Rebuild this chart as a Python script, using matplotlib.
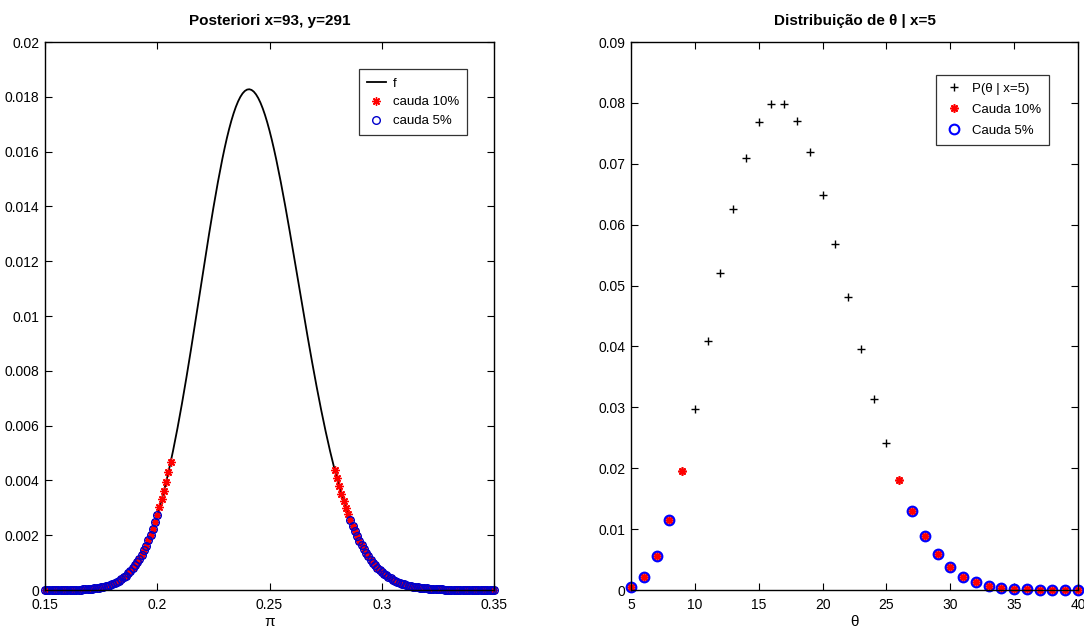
import matplotlib
matplotlib.use("Agg")
import matplotlib.pyplot as plt
import numpy as np

plt.rcParams['font.family'] = ['Liberation Sans', 'DejaVu Sans']

# ---- left panel: posterior on a 0.001 grid of pi ----
pi_grid = np.arange(150, 351) / 1000.0
post = [
    3.79e-7, 4.96e-7, 6.47e-7, 8.40e-7, 1.085e-6, 1.397e-6, 1.791e-6, 2.285e-6, 2.905e-6, 3.678e-6,
    4.637e-6, 5.823e-6, 7.283e-6, 9.075e-6, 1.126e-5, 1.392e-5, 1.715e-5, 2.104e-5, 2.573e-5, 3.134e-5,
    3.803e-5, 4.599e-5, 5.541e-5, 6.653e-5, 7.960e-5, 9.490e-5, 1.1278e-4, 1.3355e-4, 1.5765e-4, 1.8543e-4,
    2.1742e-4, 2.5406e-4, 2.9594e-4, 3.4364e-4, 3.9767e-4, 4.5884e-4, 5.2777e-4, 6.0514e-4, 6.918e-4, 7.883e-4,
    8.957e-4, 1.0147e-3, 1.1460e-3, 1.2907e-3, 1.4493e-3, 1.6225e-3, 1.8114e-3, 2.0166e-3, 2.2385e-3, 2.4778e-3,
    2.7355e-3, 3.0113e-3, 3.3062e-3, 3.6204e-3, 3.9535e-3, 4.3054e-3, 4.6767e-3, 5.0662e-3, 5.4745e-3, 5.8996e-3,
    6.3419e-3, 6.7998e-3, 7.2724e-3, 7.7585e-3, 8.2564e-3, 8.7645e-3, 9.2812e-3, 9.8040e-3, 1.03303e-2, 1.08600e-2,
    1.13896e-2, 1.19161e-2, 1.24371e-2, 1.29525e-2, 1.34555e-2, 1.39466e-2, 1.44224e-2, 1.48811e-2, 1.53174e-2, 1.57334e-2,
    1.61235e-2, 1.64873e-2, 1.68203e-2, 1.71241e-2, 1.73934e-2, 1.76297e-2, 1.78301e-2, 1.79949e-2, 1.81224e-2, 1.82116e-2,
    1.82626e-2, 1.82755e-2, 1.82501e-2, 1.81876e-2, 1.80873e-2, 1.79508e-2, 1.77790e-2, 1.75729e-2, 1.73348e-2, 1.70650e-2,
    1.67661e-2, 1.64397e-2, 1.60876e-2, 1.57127e-2, 1.53161e-2, 1.49005e-2, 1.44681e-2, 1.40211e-2, 1.35625e-2, 1.30932e-2,
    1.26164e-2, 1.21339e-2, 1.16479e-2, 1.11607e-2, 1.06737e-2, 1.01891e-2, 9.7085e-3, 9.2336e-3, 8.7661e-3, 8.3069e-3,
    7.8575e-3, 7.4189e-3, 6.9922e-3, 6.5785e-3, 6.1781e-3, 5.7918e-3, 5.4202e-3, 5.0633e-3, 4.7217e-3, 4.3955e-3,
    4.0847e-3, 3.7892e-3, 3.5090e-3, 3.2441e-3, 2.9940e-3, 2.7585e-3, 2.5372e-3, 2.3296e-3, 2.1355e-3, 1.9543e-3,
    1.7854e-3, 1.6285e-3, 1.4828e-3, 1.3480e-3, 1.2233e-3, 1.1084e-3, 1.0026e-3, 9.054e-4, 8.164e-4, 7.349e-4,
    6.604e-4, 5.925e-4, 5.307e-4, 4.747e-4, 4.238e-4, 3.779e-4, 3.364e-4, 2.989e-4, 2.652e-4, 2.350e-4,
    2.078e-4, 1.835e-4, 1.618e-4, 1.425e-4, 1.252e-4, 1.099e-4, 9.631e-5, 8.426e-5, 7.361e-5, 6.421e-5,
    5.592e-5, 4.863e-5, 4.223e-5, 3.661e-5, 3.169e-5, 2.740e-5, 2.365e-5, 2.038e-5, 1.753e-5, 1.506e-5,
    1.292e-5, 1.107e-5, 9.47e-6, 8.09e-6, 6.90e-6, 5.87e-6, 4.99e-6, 4.24e-6, 3.59e-6, 3.04e-6,
    2.57e-6, 2.17e-6, 1.83e-6, 1.54e-6, 1.29e-6, 1.09e-6, 9.1e-7, 7.6e-7, 6.4e-7, 5.3e-7, 4.4e-7,
]
post = np.array(post)

# tail limits (last point of lower tail, first point of upper tail)
tail10_pi = (0.206, 0.279)
tail5_pi = (0.200, 0.286)

# ---- right panel: discrete distribution of theta ----
theta = np.arange(5, 41)
p_theta = np.array([
    0.0005, 0.0021, 0.0056, 0.0115, 0.0196, 0.0297, 0.0409, 0.0521, 0.0625, 0.0709,
    0.0768, 0.0798, 0.0798, 0.0770, 0.0719, 0.0649, 0.0568, 0.0481, 0.0395, 0.0314,
    0.0242, 0.0180, 0.0129, 0.0089, 0.0059, 0.0037, 0.0022, 0.0013, 0.0007, 0.0004,
    0.0002, 0.0001, 0.00005, 0.00002, 0.00001, 0.000005,
])
tail10_theta = (9, 26)
tail5_theta = (8, 27)

ASTER = (8, 2, 0)   # matlab-like '*'


def style_axes(ax):
    ax.tick_params(direction='in', top=True, right=True, length=5, width=0.8,
                   labelsize=10)
    ax.tick_params(axis='x', pad=6)
    ax.tick_params(axis='y', pad=4)
    for s in ax.spines.values():
        s.set_linewidth(1.0)


fig = plt.figure(figsize=(10.84, 6.34), dpi=100)
ax1 = fig.add_axes([45 / 1084, 44 / 634, 449 / 1084, 548 / 634])
ax2 = fig.add_axes([631 / 1084, 44 / 634, 447 / 1084, 548 / 634])

# left
eps = 1e-9
m10 = (pi_grid <= tail10_pi[0] + eps) | (pi_grid >= tail10_pi[1] - eps)
m5 = (pi_grid <= tail5_pi[0] + eps) | (pi_grid >= tail5_pi[1] - eps)
ax1.plot(pi_grid, post, color='black', lw=1.3, label='f')
ax1.plot(pi_grid[m10], post[m10], ls='none', marker=ASTER, color='red',
         markersize=6, markeredgewidth=1.0, label='cauda 10%', clip_on=False)
ax1.plot(pi_grid[m5], post[m5], ls='none', marker='o', markerfacecolor='none',
         markeredgecolor='#0000cc', markersize=5.5, markeredgewidth=1.0,
         label='cauda 5%', clip_on=False)
ax1.set_xlim(0.15, 0.35)
ax1.set_ylim(0, 0.02)
ax1.set_xticks([0.15, 0.2, 0.25, 0.3, 0.35])
ax1.set_xticklabels(['0.15', '0.2', '0.25', '0.3', '0.35'])
yt = np.arange(0, 0.0201, 0.002)
ax1.set_yticks(yt)
ax1.set_yticklabels(['0'] + ['%g' % round(v, 3) for v in yt[1:]])
ax1.set_xlabel('π', fontsize=11, labelpad=2)
ax1.set_title('Posteriori x=93, y=291', fontsize=11, fontweight='bold', pad=12)
style_axes(ax1)
leg1 = ax1.legend(loc='upper right', bbox_to_anchor=(0.94, 0.95), fontsize=9.5,
                  frameon=True, fancybox=False, edgecolor='black',
                  handlelength=1.5, handletextpad=0.5, borderpad=0.6,
                  labelspacing=0.5, borderaxespad=0)
leg1.get_frame().set_linewidth(0.9)

# right
t10 = (theta <= tail10_theta[0]) | (theta >= tail10_theta[1])
t5 = (theta <= tail5_theta[0]) | (theta >= tail5_theta[1])
ax2.plot(theta, p_theta, ls='none', marker='+', color='black', markersize=6,
         markeredgewidth=1.0, label='P(θ | x=5)', clip_on=False)
ax2.plot(theta[t10], p_theta[t10], ls='none', marker=ASTER, color='red',
         markersize=6, markeredgewidth=1.2, label='Cauda 10%', clip_on=False)
ax2.plot(theta[t5], p_theta[t5], ls='none', marker='o', markerfacecolor='none',
         markeredgecolor='blue', markersize=7, markeredgewidth=1.5,
         label='Cauda 5%', clip_on=False)
ax2.set_xlim(5, 40)
ax2.set_ylim(0, 0.09)
ax2.set_xticks(np.arange(5, 41, 5))
yt2 = np.arange(0, 0.0901, 0.01)
ax2.set_yticks(yt2)
ax2.set_yticklabels(['0'] + ['%g' % round(v, 2) for v in yt2[1:]])
ax2.set_xlabel('θ', fontsize=11, labelpad=2)
ax2.set_title('Distribuição de θ | x=5', fontsize=11, fontweight='bold', pad=12)
style_axes(ax2)
leg2 = ax2.legend(loc='upper right', bbox_to_anchor=(0.935, 0.94), fontsize=9.5,
                  frameon=True, fancybox=False, edgecolor='black',
                  handlelength=1.5, handletextpad=0.6, borderpad=0.6,
                  labelspacing=0.65, borderaxespad=0)
leg2.get_frame().set_linewidth(0.9)

fig.savefig('out.png', dpi=100)
